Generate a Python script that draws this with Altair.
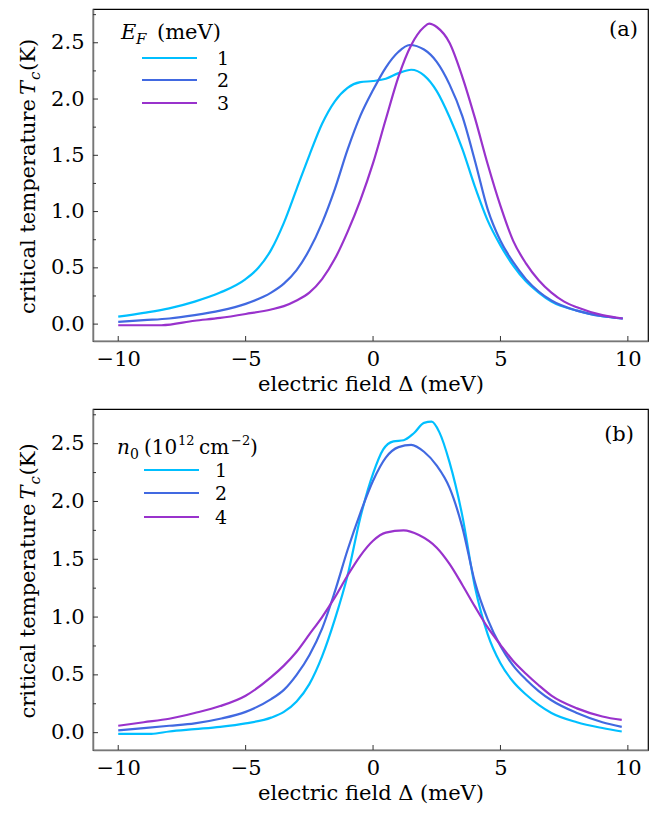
import altair as alt
import pandas as pd

FONT = "DejaVu Serif"
FS = 21
COLORS = ["#00BFFF", "#4169E1", "#9932CC"]
AX = "#333333"

# ---------------- data: panel (a), legend E_F (meV) ----------------
a_labels = ["1", "2", "3"]
a1_x = [-10, -9, -8, -7, -6, -5, -4.5, -4, -3.5, -3, -2.5, -2, -1.5, -1, -0.5, 0, 0.5, 1, 1.5, 2, 2.5, 3, 3.5, 4, 4.5, 5, 5.5, 6, 6.5, 7, 8, 9, 9.8]
a1_y = [0.066, 0.10, 0.14, 0.20, 0.28, 0.40, 0.50, 0.66, 0.90, 1.20, 1.50, 1.78, 1.98, 2.10, 2.15, 2.16, 2.18, 2.23, 2.26, 2.21, 2.07, 1.84, 1.56, 1.22, 0.92, 0.70, 0.52, 0.38, 0.28, 0.20, 0.12, 0.07, 0.05]
a2_x = [-10, -9, -8, -7, -6, -5, -4, -3.5, -3, -2.5, -2, -1.5, -1, -0.5, 0, 0.5, 1, 1.43, 2, 2.5, 3, 3.5, 4, 4.5, 5, 5.5, 6, 6.5, 7, 8, 9, 9.8]
a2_y = [0.02, 0.035, 0.05, 0.08, 0.12, 0.18, 0.28, 0.36, 0.48, 0.66, 0.90, 1.20, 1.55, 1.85, 2.08, 2.28, 2.42, 2.48, 2.44, 2.33, 2.13, 1.85, 1.45, 1.02, 0.74, 0.55, 0.40, 0.29, 0.21, 0.12, 0.07, 0.05]
a3_x = [-10, -8.3, -7, -6, -5, -4, -3.5, -3, -2.5, -2, -1.5, -1, -0.5, 0, 0.5, 1, 1.5, 2, 2.2, 2.5, 3, 3.5, 4, 4.5, 5, 5.5, 6, 6.5, 7, 7.5, 8, 9, 9.8]
a3_y = [-0.01, -0.01, 0.03, 0.055, 0.09, 0.13, 0.16, 0.21, 0.28, 0.40, 0.58, 0.82, 1.10, 1.43, 1.82, 2.20, 2.48, 2.64, 2.67, 2.64, 2.50, 2.20, 1.83, 1.42, 1.05, 0.74, 0.54, 0.39, 0.28, 0.20, 0.15, 0.08, 0.05]

# ---------------- data: panel (b), legend n0 (10^12 cm^-2) ----------------
b_labels = ["1", "2", "4"]
b1_x = [-10, -8.7, -8, -7, -6, -5, -4, -3.5, -3, -2.5, -2, -1.5, -1, -0.5, 0, 0.4, 0.8, 1.2, 1.6, 2.0, 2.3, 2.6, 3.0, 3.5, 4.0, 4.5, 5.0, 5.5, 6, 6.5, 7, 8, 9, 9.76]
b1_y = [-0.01, -0.01, 0.01, 0.03, 0.05, 0.08, 0.13, 0.18, 0.27, 0.42, 0.66, 0.98, 1.36, 1.86, 2.24, 2.45, 2.52, 2.53, 2.59, 2.68, 2.69, 2.60, 2.34, 1.88, 1.26, 0.85, 0.60, 0.44, 0.33, 0.24, 0.17, 0.09, 0.04, 0.01]
b2_x = [-10, -9, -8, -7, -6, -5, -4, -3.5, -3, -2.5, -2, -1.5, -1, -0.5, 0, 0.5, 1, 1.5, 2, 2.5, 3, 3.5, 4, 4.5, 5, 5.5, 6, 6.5, 7, 8, 9, 9.76]
b2_y = [0.02, 0.04, 0.06, 0.08, 0.12, 0.18, 0.29, 0.37, 0.50, 0.67, 0.90, 1.22, 1.58, 1.90, 2.18, 2.38, 2.47, 2.49, 2.43, 2.31, 2.12, 1.78, 1.30, 0.98, 0.75, 0.58, 0.46, 0.36, 0.28, 0.17, 0.09, 0.05]
b3_x = [-10, -9, -8, -7, -6, -5, -4, -3.5, -3, -2.5, -2, -1.5, -1, -0.5, 0, 0.5, 1.2, 1.8, 2.5, 3, 3.5, 4, 4.5, 5, 5.5, 6, 6.5, 7, 8, 9, 9.76]
b3_y = [0.06, 0.09, 0.12, 0.17, 0.23, 0.32, 0.48, 0.58, 0.70, 0.85, 1.00, 1.17, 1.36, 1.53, 1.66, 1.73, 1.75, 1.71, 1.60, 1.46, 1.28, 1.09, 0.91, 0.76, 0.62, 0.51, 0.41, 0.32, 0.21, 0.14, 0.11]

x_ticks = [-10, -5, 0, 5, 10]
y_major = [0.0, 0.5, 1.0, 1.5, 2.0, 2.5]
y_minor = [0.25, 0.75, 1.25, 1.75, 2.25, 2.75]
x_domain = [-10.99, 10.79]
y_domain = [-0.15, 2.80]

W = 555
ONE = pd.DataFrame({"k": [0]})


def txt(s, x, y, size=FS, style="normal", align="left", angle=0):
    return alt.Chart(ONE).mark_text(
        text=s, font=FONT, fontSize=size, fontStyle=style, align=align,
        baseline="alphabetic", angle=angle, color="black",
    ).encode(x=alt.value(x), y=alt.value(y))


def rule(x1, x2, y, color):
    return alt.Chart(ONE).mark_rule(color=color, strokeWidth=2.2).encode(
        x=alt.value(x1), x2=alt.value(x2), y=alt.value(y))


def panel(xs, ys, labels, H, legend_title, leg_rows, leg_x, lab_x, tag, tag_xy):
    rows = []
    for sx, sy, c in zip(xs, ys, COLORS):
        for xv, yv in zip(sx, sy):
            rows.append({"x": xv, "T": yv, "c": c})
    df = pd.DataFrame(rows)
    X = alt.X("x:Q", scale=alt.Scale(domain=x_domain, nice=False, zero=False),
              axis=alt.Axis(values=x_ticks, format="d", title="electric field Δ (meV)",
                            labelPadding=7, titlePadding=4))
    Y = alt.Y("T:Q", scale=alt.Scale(domain=y_domain, nice=False, zero=False),
              axis=alt.Axis(values=y_major, format=".1f", title=None, labelPadding=9))
    lines = alt.Chart(df).mark_line(strokeWidth=2.2, interpolate="monotone").encode(
        x=X, y=Y, color=alt.Color("c:N", scale=None), detail="c:N")
    xt = alt.Chart(pd.DataFrame({"x": x_ticks})).mark_rule(color=AX, strokeWidth=1).encode(
        x=X, y=alt.value(H), y2=alt.value(H - 5))
    ytm = alt.Chart(pd.DataFrame({"T": y_major})).mark_rule(color=AX, strokeWidth=1).encode(
        y=Y, x=alt.value(0), x2=alt.value(5))
    ytn = alt.Chart(pd.DataFrame({"T": y_minor})).mark_rule(color=AX, strokeWidth=1).encode(
        y=Y, x=alt.value(0), x2=alt.value(3))
    layers = [lines, xt, ytm, ytn]
    # y-axis title with italic T and subscript c
    cy = H / 2
    bx = -58
    layers += [
        txt("critical temperature", bx, cy - 76, align="right", angle=270),
        txt("T", bx, cy - 80, style="italic", angle=270),
        txt("c", bx + 5, cy - 95, size=15, style="italic", angle=270),
        txt("(K)", bx, cy - 104, angle=270),
    ]
    layers += legend_title
    for (lab, c, yy) in zip(labels, COLORS, leg_rows):
        layers.append(rule(leg_x, leg_x + 55, yy, c))
        layers.append(alt.Chart(ONE).mark_text(text=lab, font=FONT, fontSize=19, align="left",
                                               baseline="middle", color="black")
                      .encode(x=alt.value(lab_x), y=alt.value(yy + 1)))
    layers.append(txt(tag, tag_xy[0], tag_xy[1], align="right"))
    return alt.layer(*layers).properties(width=W, height=H)


leg_a = [
    txt("E", 28, 30, style="italic"),
    txt("F", 43, 35, size=15, style="italic"),
    txt("(meV)", 64, 30),
]
leg_b = [
    txt("n", 24, 45, style="italic", size=20),
    txt("0", 37, 50, size=14),
    txt("(10", 51, 45, size=20),
    txt("12", 85, 36, size=13),
    txt("cm", 106, 45, size=20),
    txt("−2", 138, 36, size=13),
    txt(")", 157, 45, size=20),
]

pa = panel([a1_x, a2_x, a3_x], [a1_y, a2_y, a3_y], a_labels, 332, leg_a,
           [49, 71, 94], 49, 124, "(a)", (545, 27))
pb = panel([b1_x, b2_x, b3_x], [b1_y, b2_y, b3_y], b_labels, 341, leg_b,
           [61, 84, 108], 51, 122, "(b)", (541, 32))

chart = alt.vconcat(pa, pb, spacing=13).properties(
    padding={"left": 9, "top": 0, "right": 0, "bottom": 0}
).configure_axis(
    labelFont=FONT, titleFont=FONT, labelFontSize=FS, titleFontSize=FS,
    titleFontWeight="normal", labelColor="black", titleColor="black",
    grid=False, ticks=False, domain=True, domainColor="#777777", domainWidth=1.5,
).configure_view(stroke="black", strokeWidth=1.2)

chart.save("out.html", embed_options={"renderer": "svg", "actions": False})
